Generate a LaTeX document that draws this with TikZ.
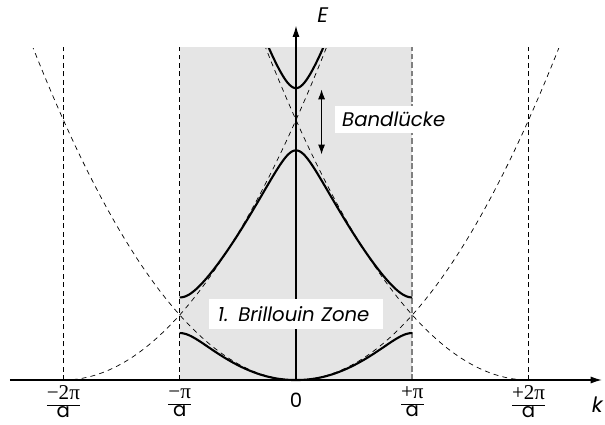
\documentclass[tikz,border=0pt]{standalone}
\usepackage[no-math]{fontspec}
\setmainfont{Poppins}
\newfontfamily\serifnum{Liberation Serif}
\usetikzlibrary{arrows.meta}

\newcommand\kfrac[1]{{\renewcommand\arraystretch{0.75}\setlength\arrayrulewidth{0.6pt}%
  \begin{tabular}{@{}c@{}}{\serifnum\fontsize{15}{16}\selectfont #1}\\\hline a\end{tabular}}}

\begin{document}
\begin{tikzpicture}[x=2.9075cm, y=1.625cm,
  band/.style={line width=1.5pt},
  free/.style={line width=0.5pt, dash pattern=on 3.5pt off 3pt},
  zone/.style={line width=0.6pt, dash pattern=on 3.5pt off 2.5pt},
  zoneedge/.style={line width=1.5pt, black!50, dash pattern=on 4pt off 2pt},
  axis/.style={line width=0.8pt, -{Latex[length=8pt,width=5pt]}},
  gap/.style={line width=0.8pt, {Latex[length=7pt,width=5pt]}-{Latex[length=7pt,width=5pt]}},
  lbl/.style={fill=white, font=\itshape\fontsize{14}{16}\selectfont},
  ticklbl/.style={font=\fontsize{14}{16}\selectfont, inner sep=0pt}]
  \useasboundingbox (-2.545,-0.692) rectangle (2.657,5.846);

  % first zone and zone limits
  \fill[black!10] (-1,0) rectangle (1,5.12);
  \foreach \k in {-2,-1,2}
    \draw[zone] (\k,0) -- (\k,5.12);
  \draw[zoneedge] (1,0) -- (1,5.12);

  % free electron parabolas and bands
  \begin{scope}
    \clip (-2.6,-0.1) rectangle (2.7,5.1);
    \draw[free] plot[domain=-2.3:2.3, samples=90] (\x,{(\x)^2});
    \draw[free] plot[domain=-2:0.3, samples=70] (\x,{(\x+2)^2});
    \draw[free] plot[domain=-0.3:2, samples=70] (\x,{(\x-2)^2});
    \draw[band] plot[domain=-1:1, samples=121] (\x,{(\x)^2-2*abs(\x)+2-sqrt(4*(abs(\x)-1)^2+0.09)+0.0224});
    \draw[band] plot[domain=-1:1, samples=121] (\x,{(\x)^2+2*abs(\x)+2+sqrt(4*(abs(\x)-1)^2+0.09)-sqrt(16*(\x)^2+0.24)});
    \draw[band] plot[domain=-0.3:0.3, samples=41] (\x,{(\x)^2+4+sqrt(16*(\x)^2+0.24)});
  \end{scope}

  % axes
  \coordinate (kstart) at (-2.46,0);
  \coordinate (kend) at (2.63,0);
  \coordinate (eorig) at (0,0);
  \coordinate (eend) at (0,5.45);
  \draw[axis] (kstart) -- (kend);
  \draw[axis] (eorig) -- (eend);

  % band gap
  \coordinate (gaptop) at (0.22,4.47);
  \coordinate (gapbot) at (0.22,3.47);
  \draw[gap] (gaptop) -- (gapbot);

  \node[lbl, anchor=west, inner xsep=0.175cm, minimum height=0.675cm] (gaplabel) at (0.335,4.01) {Bandlücke};
  \node[lbl, text width=3.9cm, align=left, inner xsep=0.225cm, minimum height=0.75cm] (zonelabel) at (0,1.015) {1. Brillouin Zone};

  \node[font=\itshape\fontsize{15}{18}\selectfont] (elabel) at (0.23,5.615) {E};
  \node[font=\itshape\fontsize{15}{18}\selectfont] (klabel) at (2.59,-0.385) {k};
  \node[ticklbl] (zero) at (0,-0.31) {0};
  \foreach \k/\t/\n in {-2/−2π/mtwo, -1/−π/mone, 1/+π/pone, 2/+2π/ptwo}
    \node[ticklbl] (\n) at (\k,-0.37) {\kfrac{\t}};
\end{tikzpicture}
\end{document}
